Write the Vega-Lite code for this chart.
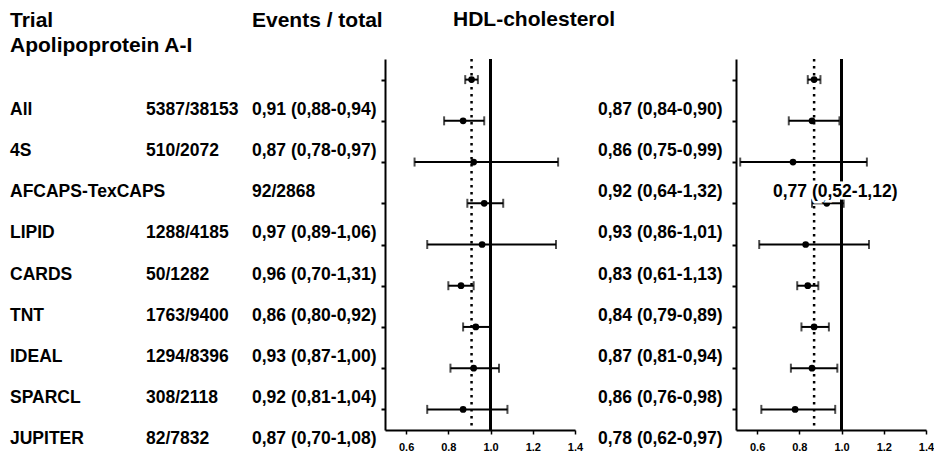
{
  "$schema": "https://vega.github.io/schema/vega-lite/v6.json",
  "background": "white",
  "padding": {"left": 10, "top": 8, "right": 0, "bottom": 0},
  "bounds": "flush",
  "spacing": 0,
  "datasets": {
    "rows": [
      {"trial": "All", "events": "5387/38153", "est": "0,91 (0,88-0,94)", "hdl": "0,87 (0,84-0,90)", "a": 0.91, "alo": 0.88, "ahi": 0.94, "h": 0.87, "hlo": 0.84, "hhi": 0.90, "note": ""},
      {"trial": "4S", "events": "510/2072", "est": "0,87 (0,78-0,97)", "hdl": "0,86 (0,75-0,99)", "a": 0.87, "alo": 0.78, "ahi": 0.97, "h": 0.86, "hlo": 0.75, "hhi": 0.99, "note": ""},
      {"trial": "AFCAPS-TexCAPS", "events": "", "est": "92/2868", "hdl": "0,92 (0,64-1,32)", "a": 0.92, "alo": 0.64, "ahi": 1.32, "h": 0.77, "hlo": 0.52, "hhi": 1.12, "note": "0,77 (0,52-1,12)"},
      {"trial": "LIPID", "events": "1288/4185", "est": "0,97 (0,89-1,06)", "hdl": "0,93 (0,86-1,01)", "a": 0.97, "alo": 0.89, "ahi": 1.06, "h": 0.93, "hlo": 0.86, "hhi": 1.01, "note": ""},
      {"trial": "CARDS", "events": "50/1282", "est": "0,96 (0,70-1,31)", "hdl": "0,83 (0,61-1,13)", "a": 0.96, "alo": 0.70, "ahi": 1.31, "h": 0.83, "hlo": 0.61, "hhi": 1.13, "note": ""},
      {"trial": "TNT", "events": "1763/9400", "est": "0,86 (0,80-0,92)", "hdl": "0,84 (0,79-0,89)", "a": 0.86, "alo": 0.80, "ahi": 0.92, "h": 0.84, "hlo": 0.79, "hhi": 0.89, "note": ""},
      {"trial": "IDEAL", "events": "1294/8396", "est": "0,93 (0,87-1,00)", "hdl": "0,87 (0,81-0,94)", "a": 0.93, "alo": 0.87, "ahi": 1.00, "h": 0.87, "hlo": 0.81, "hhi": 0.94, "note": ""},
      {"trial": "SPARCL", "events": "308/2118", "est": "0,92 (0,81-1,04)", "hdl": "0,86 (0,76-0,98)", "a": 0.92, "alo": 0.81, "ahi": 1.04, "h": 0.86, "hlo": 0.76, "hhi": 0.98, "note": ""},
      {"trial": "JUPITER", "events": "82/7832", "est": "0,87 (0,70-1,08)", "hdl": "0,78 (0,62-0,97)", "a": 0.87, "alo": 0.70, "ahi": 1.08, "h": 0.78, "hlo": 0.62, "hhi": 0.97, "note": ""}
    ]
  },
  "config": {
    "view": {"stroke": null},
    "title": {"font": "Liberation Sans", "fontSize": 21, "fontWeight": "bold", "color": "black", "anchor": "start", "frame": "group", "lineHeight": 25, "offset": 3},
    "axis": {"domainColor": "black", "domainWidth": 2, "tickColor": "black", "tickWidth": 2, "tickSize": 4, "grid": false, "title": null, "labelFont": "Liberation Sans", "labelFontWeight": "bold", "labelColor": "black"},
    "text": {"font": "Liberation Sans", "fontWeight": "bold", "fontSize": 17.5, "color": "black"}
  },
  "hconcat": [
    {
      "width": 136, "height": 371,
      "title": {"text": ["Trial", "Apolipoprotein A-I"]},
      "data": {"name": "rows"},
      "mark": {"type": "text", "align": "left", "baseline": "middle", "dy": 30},
      "encoding": {
        "y": {"field": "trial", "type": "nominal", "sort": null, "scale": {"type": "point", "padding": 0.5}, "axis": null},
        "x": {"datum": "c", "type": "nominal", "scale": {"type": "point", "align": 0, "padding": 0}, "axis": null},
        "text": {"field": "trial"}
      }
    },
    {
      "width": 105.7, "height": 371,
      "data": {"name": "rows"},
      "mark": {"type": "text", "align": "left", "baseline": "middle", "dy": 30},
      "encoding": {
        "y": {"field": "trial", "type": "nominal", "sort": null, "scale": {"type": "point", "padding": 0.5}, "axis": null},
        "x": {"datum": "c", "type": "nominal", "scale": {"type": "point", "align": 0, "padding": 0}, "axis": null},
        "text": {"field": "events"}
      }
    },
    {
      "width": 132.3, "height": 371,
      "title": {"text": "Events / total", "dy": -25},
      "data": {"name": "rows"},
      "mark": {"type": "text", "align": "left", "baseline": "middle", "dy": 30},
      "encoding": {
        "y": {"field": "trial", "type": "nominal", "sort": null, "scale": {"type": "point", "padding": 0.5}, "axis": null},
        "x": {"datum": "c", "type": "nominal", "scale": {"type": "point", "align": 0, "padding": 0}, "axis": null},
        "text": {"field": "est"}
      }
    },
    {
      "width": 190, "height": 371,
      "title": {"text": "HDL-cholesterol", "dx": 68, "dy": -25},
      "data": {"name": "rows"},
      "layer": [
        {
          "transform": [{"filter": "datum.trial === 'All'"}],
          "mark": {"type": "rule", "color": "black", "strokeWidth": 2.5, "strokeDash": [2.5, 4.5]},
          "encoding": {"x": {"field": "a", "type": "quantitative", "scale": {"domain": [0.5, 1.4], "nice": false, "zero": false}, "axis": {"values": [0.6, 0.8, 1.0, 1.2, 1.4], "format": ".1f", "labelFontSize": 11, "labelFlush": false, "labelPadding": 7, "tickWidth": 1.5}}}
        },
        {
          "mark": {"type": "rule", "color": "black", "strokeWidth": 2},
          "encoding": {"x": {"datum": 1, "type": "quantitative"}}
        },
        {
          "mark": {"type": "rule", "color": "black", "strokeWidth": 2},
          "encoding": {
            "y": {"field": "trial", "type": "nominal", "sort": null, "scale": {"type": "point", "padding": 0.5}, "axis": {"labels": false}},
            "x": {"field": "alo", "type": "quantitative"},
            "x2": {"field": "ahi"}
          }
        },
        {
          "mark": {"type": "tick", "color": "black", "size": 9, "thickness": 2},
          "encoding": {"y": {"field": "trial", "type": "nominal", "sort": null}, "x": {"field": "alo", "type": "quantitative"}}
        },
        {
          "mark": {"type": "tick", "color": "black", "size": 9, "thickness": 2},
          "encoding": {"y": {"field": "trial", "type": "nominal", "sort": null}, "x": {"field": "ahi", "type": "quantitative"}}
        },
        {
          "mark": {"type": "point", "filled": true, "color": "black", "size": 45, "opacity": 1},
          "encoding": {"y": {"field": "trial", "type": "nominal", "sort": null}, "x": {"field": "a", "type": "quantitative"}}
        }
      ]
    },
    {
      "width": 161, "height": 371,
      "data": {"name": "rows"},
      "mark": {"type": "text", "align": "left", "baseline": "middle", "dy": 30},
      "encoding": {
        "y": {"field": "trial", "type": "nominal", "sort": null, "scale": {"type": "point", "padding": 0.5}, "axis": null},
        "x": {"datum": "c", "type": "nominal", "scale": {"type": "point", "align": 0.143, "padding": 0}, "axis": null},
        "text": {"field": "hdl"}
      }
    },
    {
      "width": 190, "height": 371,
      "data": {"name": "rows"},
      "layer": [
        {
          "transform": [{"filter": "datum.trial === 'All'"}],
          "mark": {"type": "rule", "color": "black", "strokeWidth": 2.5, "strokeDash": [2.5, 4.5]},
          "encoding": {"x": {"field": "h", "type": "quantitative", "scale": {"domain": [0.5, 1.4], "nice": false, "zero": false}, "axis": {"values": [0.6, 0.8, 1.0, 1.2, 1.4], "format": ".1f", "labelFontSize": 11, "labelFlush": false, "labelPadding": 7, "tickWidth": 1.5}}}
        },
        {
          "mark": {"type": "rule", "color": "black", "strokeWidth": 2},
          "encoding": {"x": {"datum": 1, "type": "quantitative"}}
        },
        {
          "mark": {"type": "rule", "color": "black", "strokeWidth": 2},
          "encoding": {
            "y": {"field": "trial", "type": "nominal", "sort": null, "scale": {"type": "point", "padding": 0.5}, "axis": {"labels": false}},
            "x": {"field": "hlo", "type": "quantitative"},
            "x2": {"field": "hhi"}
          }
        },
        {
          "mark": {"type": "tick", "color": "black", "size": 9, "thickness": 2},
          "encoding": {"y": {"field": "trial", "type": "nominal", "sort": null}, "x": {"field": "hlo", "type": "quantitative"}}
        },
        {
          "mark": {"type": "tick", "color": "black", "size": 9, "thickness": 2},
          "encoding": {"y": {"field": "trial", "type": "nominal", "sort": null}, "x": {"field": "hhi", "type": "quantitative"}}
        },
        {
          "mark": {"type": "point", "filled": true, "color": "black", "size": 45, "opacity": 1},
          "encoding": {"y": {"field": "trial", "type": "nominal", "sort": null}, "x": {"field": "h", "type": "quantitative"}}
        },
        {
          "transform": [{"filter": "datum.note !== ''"}],
          "mark": {"type": "text", "align": "left", "baseline": "middle", "dy": 30, "dx": -20, "stroke": "white", "strokeWidth": 5, "strokeOpacity": 1},
          "encoding": {"y": {"field": "trial", "type": "nominal", "sort": null}, "x": {"field": "h", "type": "quantitative"}, "text": {"field": "note"}}
        },
        {
          "transform": [{"filter": "datum.note !== ''"}],
          "mark": {"type": "text", "align": "left", "baseline": "middle", "dy": 30, "dx": -20},
          "encoding": {"y": {"field": "trial", "type": "nominal", "sort": null}, "x": {"field": "h", "type": "quantitative"}, "text": {"field": "note"}}
        }
      ]
    }
  ]
}
